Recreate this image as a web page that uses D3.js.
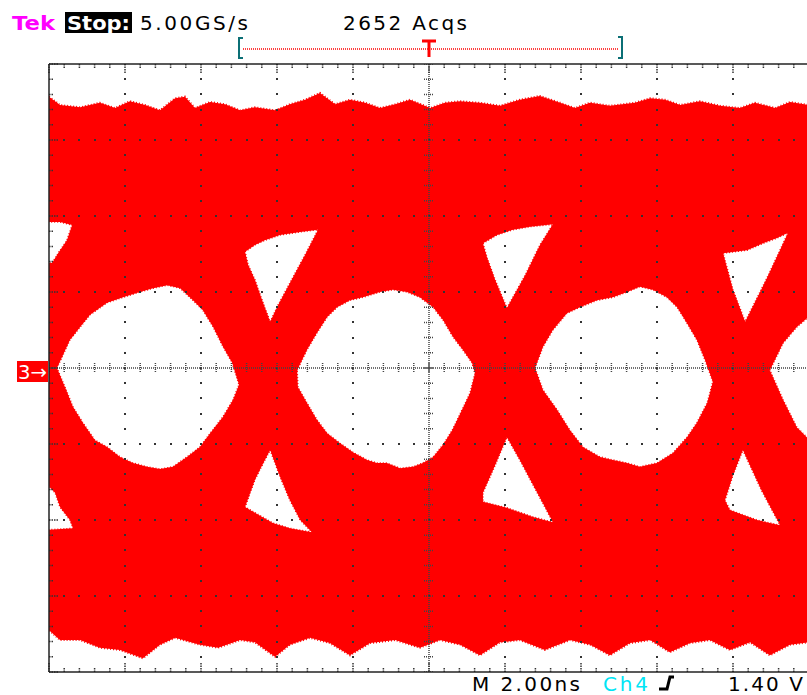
<!DOCTYPE html>
<html><head><meta charset="utf-8">
<script src="https://cdn.jsdelivr.net/npm/d3@7"></script>
<style>html,body{margin:0;padding:0;background:#fff;overflow:hidden}svg{display:block}</style>
</head><body>
<script>
// Eye diagram, Ch3. Horizontal axis in ns (2.00 ns/div, 10 div), vertical in divisions (8 div).
const timeDomain = [0, 20];
const levelDomain = [-4, 4];
const majorTimes = d3.range(0, 20.001, 2);
const minorTimes = d3.range(0, 20.001, 0.4);
const majorLevels = d3.range(-4, 4.001, 1);
const minorLevels = d3.range(-4, 4.001, 0.2);

// Header / status texts
const headerTexts = ["Tek", "Stop:", "5.00GS/s", "2652 Acqs"];
const statusTexts = ["M 2.00ns", "Ch4", "1.40 V"];
const channelLabel = "3\u2192";

// Outer envelope of the accumulated traces [t (ns), level (div)]
const envelopeTop = [
  [0,3.57],[0.29,3.46],[0.82,3.43],[1.34,3.49],[1.74,3.42],[2.13,3.51],[2.53,3.46],[2.92,3.39],
  [3.32,3.55],[3.58,3.57],[3.84,3.42],[4.24,3.5],[4.63,3.47],[5.03,3.39],[5.42,3.43],[5.95,3.39],
  [6.34,3.47],[6.74,3.53],[7.13,3.62],[7.53,3.47],[7.92,3.53],[8.32,3.49],[8.71,3.42],[9.11,3.47],
  [9.5,3.53],[10.03,3.42],[10.42,3.49],[10.82,3.51],[11.34,3.49],[11.87,3.45],[12.39,3.53],[12.92,3.58],
  [13.45,3.49],[13.84,3.42],[14.24,3.49],[14.76,3.45],[15.42,3.49],[15.82,3.55],[16.21,3.53],[16.61,3.46],
  [17.13,3.51],[17.66,3.45],[18.18,3.42],[18.58,3.49],[19.11,3.42],[19.5,3.5],[20,3.46]
];
const envelopeBottom = [
  [0,-3.45],[0.29,-3.58],[0.82,-3.58],[1.34,-3.68],[1.87,-3.71],[2.47,-3.82],[2.92,-3.64],[3.32,-3.55],
  [3.97,-3.64],[4.45,-3.68],[5.03,-3.58],[5.42,-3.61],[5.95,-3.8],[6.34,-3.64],[6.87,-3.55],[7.39,-3.62],
  [7.92,-3.78],[8.45,-3.62],[9.11,-3.58],[9.76,-3.68],[10.29,-3.58],[10.82,-3.64],[11.34,-3.78],[11.87,-3.61],
  [12.39,-3.58],[13.05,-3.71],[13.71,-3.58],[14.24,-3.64],[14.76,-3.78],[15.29,-3.62],[15.82,-3.58],[16.34,-3.74],
  [16.87,-3.62],[17.39,-3.58],[17.92,-3.71],[18.45,-3.61],[18.97,-3.78],[19.5,-3.64],[20,-3.61]
];

// Eye openings
const eyeOpening1 = [
  [0.21,0],[0.55,0.37],[0.82,0.54],[1.08,0.7],[1.53,0.86],[1.95,0.93],[2.39,1.0],[2.74,1.05],[3.11,1.09],
  [3.45,1.05],[3.79,0.89],[4.05,0.76],[4.32,0.54],[4.58,0.28],[4.82,0.07],[5.0,-0.22],[4.84,-0.42],
  [4.58,-0.64],[4.24,-0.86],[3.97,-1.04],[3.63,-1.17],[3.26,-1.3],[2.92,-1.33],[2.58,-1.3],[2.21,-1.25],
  [1.87,-1.17],[1.53,-1.04],[1.21,-0.95],[0.89,-0.72],[0.63,-0.51],[0.42,-0.25]
];
const eyeOpening2 = [
  [6.53,-0.03],[6.79,0.24],[7.05,0.46],[7.32,0.67],[7.58,0.8],[7.92,0.89],[8.26,0.93],[8.71,1.0],[9.05,1.03],
  [9.42,1.0],[9.76,0.93],[10.11,0.8],[10.37,0.63],[10.63,0.41],[10.89,0.24],[11.13,0.07],[11.21,-0.07],
  [11.08,-0.33],[10.87,-0.55],[10.61,-0.82],[10.37,-1.01],[10.11,-1.17],[9.84,-1.25],[9.58,-1.3],[9.24,-1.32],
  [8.89,-1.25],[8.63,-1.25],[8.37,-1.21],[8.0,-1.11],[7.66,-0.99],[7.32,-0.86],[7.05,-0.68],[6.79,-0.46],[6.55,-0.25]
];
const eyeOpening3 = [
  [12.79,0],[13.0,0.28],[13.26,0.5],[13.63,0.72],[13.97,0.8],[14.42,0.89],[14.84,0.93],[15.21,1.0],[15.55,1.07],
  [15.89,1.03],[16.26,0.93],[16.53,0.8],[16.79,0.59],[17.05,0.37],[17.26,0.11],[17.47,-0.18],[17.32,-0.46],
  [17.05,-0.72],[16.79,-0.91],[16.42,-1.12],[16.0,-1.25],[15.55,-1.3],[15.21,-1.25],[14.84,-1.21],[14.5,-1.17],
  [14.05,-1.04],[13.71,-0.82],[13.37,-0.55],[13.0,-0.29]
];
const eyeOpening4 = [
  [18.97,-0.03],[19.32,0.33],[19.68,0.54],[20.1,0.72],[20.1,-0.99],[19.68,-0.78],[19.32,-0.42]
];

// Gaps above and below the crossings
const upperGapEdge = [[-0.1,1.92],[0.29,1.92],[0.61,1.88],[0.47,1.68],[0.24,1.51],[0.08,1.38],[-0.1,1.38]];
const lowerGapEdge = [[-0.1,-1.51],[0.16,-1.64],[0.29,-1.83],[0.55,-2.0],[0.63,-2.11],[-0.1,-2.13]];
const upperGap1 = [
  [5.16,1.53],[5.42,1.62],[5.68,1.68],[6.08,1.75],[6.61,1.79],[7.08,1.82],[6.74,1.49],[6.34,1.12],
  [6.03,0.83],[5.82,0.61],[5.61,0.89],[5.42,1.16],[5.24,1.36]
];
const lowerGap1 = [
  [5.82,-1.08],[6.08,-1.43],[6.34,-1.74],[6.61,-2.0],[6.92,-2.16],[6.34,-2.11],[5.89,-2.04],[5.37,-1.89],
  [5.16,-1.83],[5.42,-1.47],[5.61,-1.28]
];
const upperGap2 = [
  [11.42,1.64],[11.79,1.75],[12.21,1.82],[12.66,1.86],[13.26,1.89],[12.92,1.62],[12.53,1.22],[12.05,0.79],
  [11.74,1.16],[11.53,1.45]
];
const lowerGap2 = [
  [12.05,-0.91],[12.39,-1.21],[12.74,-1.54],[13.05,-1.83],[13.26,-2.03],[12.74,-1.96],[12.05,-1.84],
  [11.42,-1.76],[11.42,-1.64],[11.74,-1.28]
];
const upperGap3 = [
  [17.74,1.51],[18.37,1.55],[18.79,1.64],[19.16,1.71],[19.45,1.78],[18.89,1.18],[18.32,0.61],[18.0,1.03]
];
const lowerGap3 = [
  [18.26,-1.08],[18.74,-1.6],[19.24,-2.07],[18.63,-2.0],[17.92,-1.87],[17.79,-1.74],[18.0,-1.41]
];

const W = 807, H = 695;
const svg = d3.select("body").append("svg").attr("width", W).attr("height", H)
  .style("font-family", "'DejaVu Sans', Verdana, sans-serif");

const x = d3.scaleLinear().domain(timeDomain).range([49, 809]);
const y = d3.scaleLinear().domain(levelDomain).range([672, 64]);

svg.append("defs").append("clipPath").attr("id", "plot")
  .append("rect").attr("x", x(0)).attr("y", y(4)).attr("width", x(20) - x(0)).attr("height", y(-4) - y(4));

const plot = svg.append("g").attr("clip-path", "url(#plot)");
const closed = d3.line().x(d => x(d[0])).y(d => y(d[1])).curve(d3.curveLinearClosed);

// accumulated traces
plot.append("path")
  .attr("d", closed(envelopeTop.concat(envelopeBottom.slice().reverse())))
  .attr("fill", "#ff0000")
  .attr("stroke", "#ff0000").attr("stroke-width", 2).attr("stroke-dasharray", "1,2");

const holes = [eyeOpening1, eyeOpening2, eyeOpening3, eyeOpening4,
  upperGapEdge, lowerGapEdge, upperGap1, lowerGap1, upperGap2, lowerGap2, upperGap3, lowerGap3];
plot.selectAll("path.hole").data(holes).join("path")
  .attr("class", "hole")
  .attr("d", closed)
  .attr("fill", "#ffffff")
  .attr("stroke", "#ff0000").attr("stroke-width", 1.5).attr("stroke-dasharray", "1,2");

// graticule dots along the major lines
const dots = [];
majorTimes.filter(t => t > 0 && t < 20 && t !== 10).forEach(t =>
  minorLevels.forEach(v => dots.push([t, v])));
majorLevels.filter(v => v > -4 && v < 4 && v !== 0).forEach(v =>
  minorTimes.forEach(t => dots.push([t, v])));
plot.append("g").selectAll("rect").data(dots).join("rect")
  .attr("x", d => Math.round(x(d[0])) - 1).attr("y", d => Math.round(y(d[1])) - 1)
  .attr("width", 2).attr("height", 2).attr("fill", "#333");

// centre cross lines with small ticks
const dotted = "1,1";
const cross = plot.append("g").attr("stroke", "#444").attr("stroke-dasharray", dotted).attr("stroke-width", 1.5);
cross.append("line").attr("x1", x(0)).attr("x2", x(20)).attr("y1", y(0)).attr("y2", y(0));
cross.append("line").attr("x1", x(10)).attr("x2", x(10)).attr("y1", y(4)).attr("y2", y(-4));
cross.selectAll("line.tt").data(minorTimes).join("line").attr("class", "tt")
  .attr("x1", d => x(d)).attr("x2", d => x(d)).attr("y1", y(0) - 5).attr("y2", y(0) + 5);
cross.selectAll("line.tv").data(minorLevels).join("line").attr("class", "tv")
  .attr("y1", d => y(d)).attr("y2", d => y(d)).attr("x1", x(10) - 5).attr("x2", x(10) + 5);

// frame ticks
const isMajor = (d, step) => Math.abs(d / step - Math.round(d / step)) < 1e-6;
const edge = svg.append("g").attr("stroke", "#333").attr("stroke-width", 1.5).attr("stroke-dasharray", "1.5,1");
edge.selectAll("line.top").data(minorTimes).join("line").attr("class", "top")
  .attr("x1", d => x(d)).attr("x2", d => x(d)).attr("y1", y(4))
  .attr("y2", d => y(4) + (isMajor(d, 2) ? 9 : 4));
edge.selectAll("line.bot").data(minorTimes).join("line").attr("class", "bot")
  .attr("x1", d => x(d)).attr("x2", d => x(d)).attr("y1", y(-4))
  .attr("y2", d => y(-4) - (isMajor(d, 2) ? 9 : 4));
edge.selectAll("line.left").data(minorLevels).join("line").attr("class", "left")
  .attr("y1", d => y(d)).attr("y2", d => y(d)).attr("x1", x(0))
  .attr("x2", d => x(0) + (isMajor(d, 1) ? 9 : 5));

// frame
const frame = svg.append("g").attr("stroke", "#222").attr("stroke-width", 1.5).attr("fill", "none");
frame.append("line").attr("x1", x(0)).attr("x2", x(0)).attr("y1", y(4)).attr("y2", y(-4));
frame.append("line").attr("x1", x(0)).attr("x2", W).attr("y1", y(4)).attr("y2", y(4));
frame.append("line").attr("x1", x(0)).attr("x2", W).attr("y1", y(-4)).attr("y2", y(-4));

// channel 3 ground marker
svg.append("rect").attr("x", 17).attr("y", 361).attr("width", 31).attr("height", 21).attr("fill", "#ff0000");
svg.append("text").attr("x", 18).attr("y", 379).attr("fill", "#fff").attr("font-size", 20)
  .attr("textLength", 29).attr("lengthAdjust", "spacingAndGlyphs").text(channelLabel);

// header
svg.append("text").attr("x", 12).attr("y", 30).attr("fill", "#ff00ff").attr("font-size", 20).attr("font-weight", "bold")
  .attr("textLength", 43).attr("lengthAdjust", "spacingAndGlyphs").text(headerTexts[0]);
svg.append("rect").attr("x", 65).attr("y", 12).attr("width", 67).attr("height", 21).attr("fill", "#000");
svg.append("text").attr("x", 67).attr("y", 30).attr("fill", "#fff").attr("font-size", 20).attr("font-weight", "bold")
  .attr("textLength", 63).attr("lengthAdjust", "spacingAndGlyphs").text(headerTexts[1]);
svg.append("text").attr("x", 140).attr("y", 30).attr("fill", "#000").attr("font-size", 20)
  .attr("textLength", 108).text(headerTexts[2]);
svg.append("text").attr("x", 343).attr("y", 30).attr("fill", "#000").attr("font-size", 20)
  .attr("textLength", 124).text(headerTexts[3]);

// trigger position bar
const barY = 49;
svg.append("line").attr("x1", 243).attr("x2", 618).attr("y1", barY).attr("y2", barY)
  .attr("stroke", "#ff0000").attr("stroke-width", 1.5).attr("stroke-dasharray", "1,1");
svg.append("path").attr("d", "M243,38H239V58H243").attr("fill", "none").attr("stroke", "#0b6f75").attr("stroke-width", 2);
svg.append("path").attr("d", "M618,37H622V58H618").attr("fill", "none").attr("stroke", "#0b6f75").attr("stroke-width", 2);
svg.append("path").attr("d", `M${x(10) - 7},41H${x(10) + 7}M${x(10)},41V57`).attr("fill", "none")
  .attr("stroke", "#ff0000").attr("stroke-width", 3);

// status line
svg.append("text").attr("x", 472).attr("y", 691).attr("fill", "#000").attr("font-size", 20)
  .attr("textLength", 108).text(statusTexts[0]);
svg.append("text").attr("x", 603).attr("y", 691).attr("fill", "#00e5f5").attr("font-size", 20)
  .attr("textLength", 45).text(statusTexts[1]);
svg.append("path").attr("d", "M659,689H667L670,677H674").attr("fill", "none").attr("stroke", "#000").attr("stroke-width", 3);
svg.append("text").attr("x", 728).attr("y", 691).attr("fill", "#000").attr("font-size", 20)
  .attr("textLength", 75).text(statusTexts[2]);
</script>
</body></html>
